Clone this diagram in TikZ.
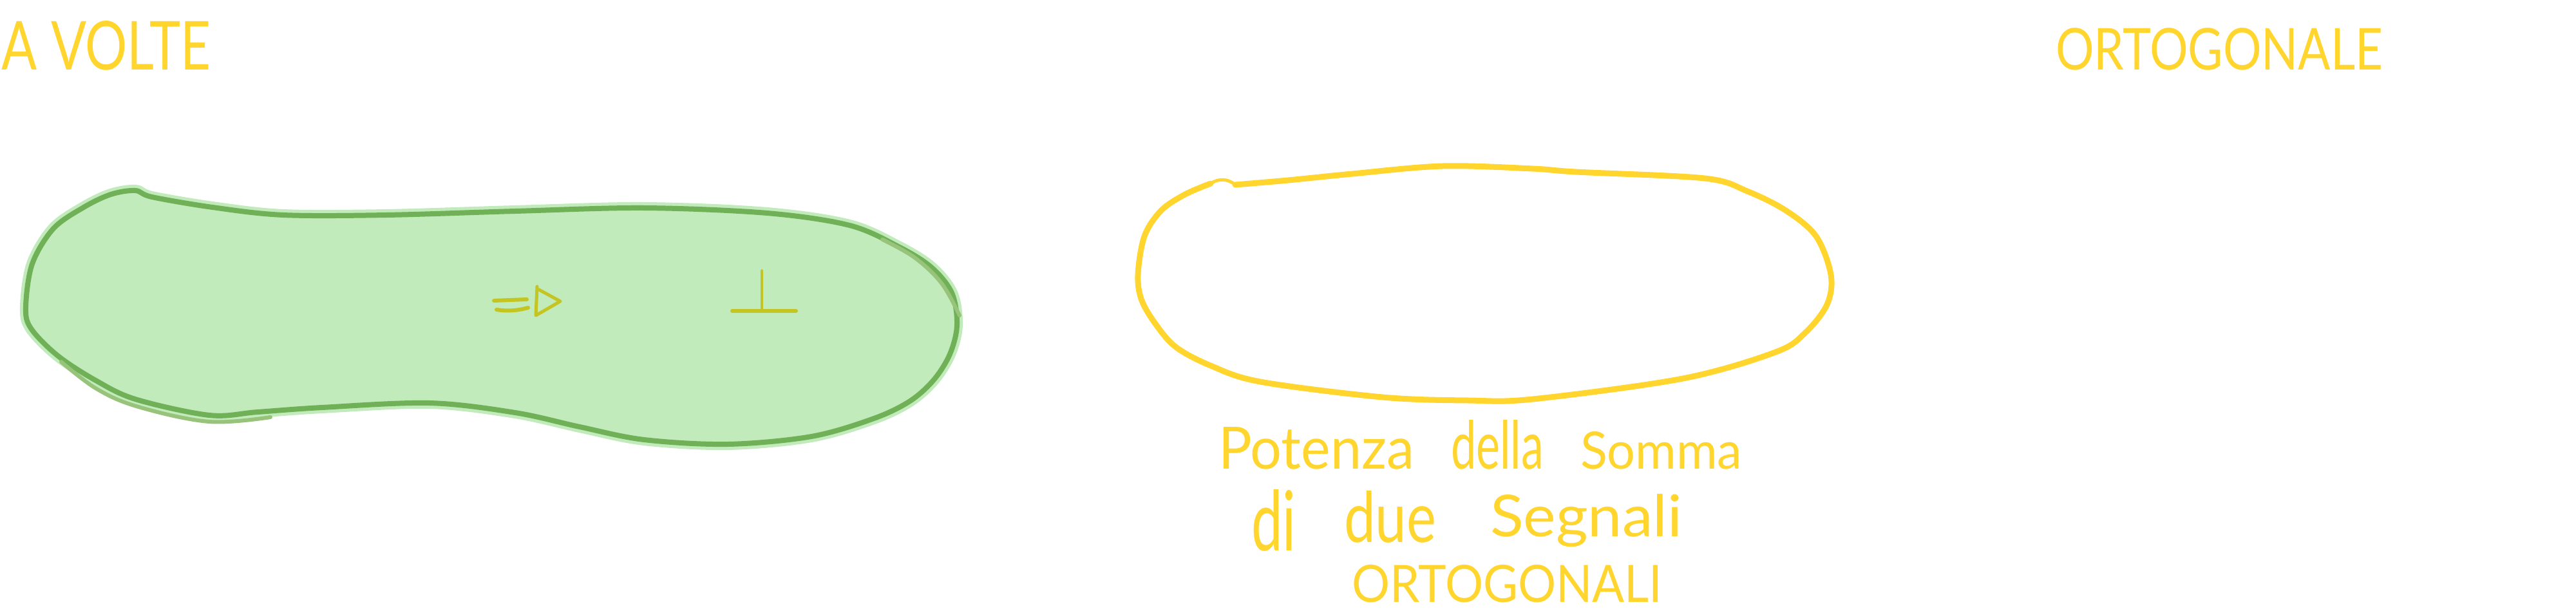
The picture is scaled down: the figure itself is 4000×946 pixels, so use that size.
\documentclass[tikz,border=0pt]{standalone}
\usepackage{fontspec}
\setmainfont{Lato}
\usepackage{graphicx}
\definecolor{gfill}{HTML}{C1EBBA}
\definecolor{gline}{HTML}{70B158}
\definecolor{gline2}{HTML}{97C47A}
\definecolor{ylw}{HTML}{FFD52E}
\definecolor{olivesym}{HTML}{C4C423}
\begin{document}
\begin{tikzpicture}[x=0.1mm,y=-0.1mm,
  hand/.style={text=ylw, inner sep=0pt, outer sep=0pt},
  symstroke/.style={draw=olivesym, line cap=round, line join=round},
  gout/.style={draw=gline, line width=0.8mm, line cap=round, line join=round},
  ystroke/.style={draw=ylw, line width=0.9mm, line cap=round, line join=round}]
\useasboundingbox (0,0) rectangle (4000,946);

% green blob: fill, halo and outline
\draw[gout, preaction={fill=gfill, draw=gfill, line width=1.8mm}]
  plot[smooth cycle, tension=0.55] coordinates {
  (236,306) (330,322) (440,334) (600,334) (800,328) (1000,323) (1191,331)
  (1319,350) (1395,383) (1446,415) (1478,455) (1486,505) (1475,550)
  (1450,590) (1413,623) (1357,650) (1260,678) (1130,690) (1000,683)
  (900,663) (800,641) (667,626) (500,633) (400,640) (325,645) (210,620)
  (147,590) (89,552) (48,510) (40,477) (50,410) (83,355) (130,322)
  (172,302) (210,296)};
\draw[gline2, line width=0.6mm, line cap=round]
  plot[smooth, tension=0.6] coordinates {(95,562) (150,604) (215,632) (325,655) (420,648)};
\draw[gline2, line width=0.6mm, line cap=round]
  plot[smooth, tension=0.6] coordinates {(1370,372) (1420,400) (1462,440) (1490,490)};

% implication sign
\draw[symstroke, line width=0.6mm] (767,467) -- (818,465);
\draw[symstroke, line width=0.6mm] (771,481) .. controls (790,484) and (805,482) .. (820,478);
\draw[symstroke, line width=0.5mm] (834,445) -- (832,490) -- (870,468) -- (837,450);
% perpendicular sign
\draw[symstroke, line width=0.6mm] (1137,483) -- (1236,483);
\draw[symstroke, line width=0.35mm] (1183,420) -- (1183,483);

% yellow blob
\draw[ystroke] plot[smooth, tension=0.55] coordinates {
  (1918,287) (2000,280) (2100,270) (2240,258) (2380,262) (2447,267)
  (2647,277) (2713,297) (2773,327) (2820,367) (2843,427) (2837,473)
  (2803,517) (2757,547) (2613,588) (2380,620) (2280,622) (2147,617)
  (1957,593) (1880,568) (1827,540) (1797,507) (1773,467) (1767,427)
  (1777,367) (1803,327) (1840,302) (1880,285)};
\draw[ylw, line width=0.5mm, line cap=round] (1880,285) .. controls (1892,277) and (1906,277) .. (1918,287);

% texts
\node[hand, anchor=north west] (avolte) at (3,32) {\resizebox{32.4mm}{7.6mm}{A VOLTE}};
\node[hand, anchor=north west] (ortogonale) at (3192,43) {\resizebox{50.8mm}{6.5mm}{ORTOGONALE}};
\node[hand, anchor=base west] (w1) at (1892,728) {\resizebox{30.4mm}{6.5mm}{Potenza}};
\node[hand, anchor=base west] (w2) at (2253,728) {\resizebox{14.4mm}{7.6mm}{della}};
\node[hand, anchor=base west] (w3) at (2454,728) {\resizebox{25.1mm}{5.8mm}{Somma}};
\node[hand, anchor=base west] (w4) at (1943,855) {\resizebox{6.9mm}{9.5mm}{di}};
\node[hand, anchor=base west] (w5) at (2087,842) {\resizebox{14.3mm}{8.0mm}{due}};
\node[hand, anchor=base west] (w6) at (2314,833) {\resizebox{29.8mm}{6.6mm}{Segnali}};
\node[hand, anchor=base west] (w7) at (2099,935) {\resizebox{48.2mm}{5.8mm}{ORTOGONALI}};
\end{tikzpicture}
\end{document}
